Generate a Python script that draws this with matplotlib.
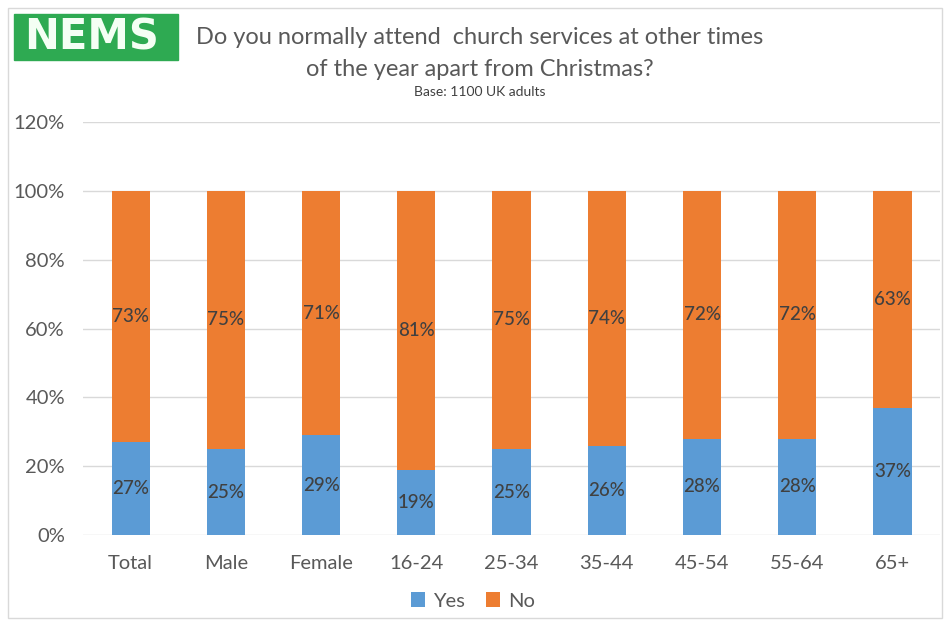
import matplotlib.pyplot as plt
import matplotlib.patches as patches
import numpy as np

plt.rcParams['font.family'] = ['Lato', 'DejaVu Sans']

grupos = ['Total', 'Male', 'Female', '16-24', '25-34', '35-44', '45-54', '55-64', '65+']
sim = [27, 25, 29, 19, 25, 26, 28, 28, 37]
nao = [73, 75, 71, 81, 75, 74, 72, 72, 63]

azul = '#5b9bd5'
laranja = '#ed7d31'
texto = '#404040'
eixo = '#595959'

fig = plt.figure(figsize=(9.45, 6.2), dpi=100)
ax = fig.add_axes([0.0878, 0.137, 0.907, 0.666])

x = np.arange(len(grupos))
b1 = ax.bar(x, sim, width=0.4, color=azul, label='Yes', zorder=3)
b2 = ax.bar(x, nao, width=0.4, bottom=sim, color=laranja, label='No', zorder=3)

# rótulos no meio de cada pedaço da barra
for i in range(len(grupos)):
    ax.text(x[i], sim[i] / 2, f'{sim[i]}%', ha='center', va='center',
            fontsize=13.5, color=texto, fontweight='medium', zorder=4)
    ax.text(x[i], sim[i] + nao[i] / 2, f'{nao[i]}%', ha='center', va='center',
            fontsize=13.5, color=texto, fontweight='medium', zorder=4)

ax.set_xlim(-0.5, len(grupos) - 0.5)
ax.set_ylim(0, 120)
ax.set_yticks(range(0, 121, 20))
ax.set_yticklabels([f'{v}%' for v in range(0, 121, 20)])
ax.set_xticks(x)
ax.set_xticklabels(grupos)
ax.tick_params(axis='both', length=0, labelsize=14.5, colors=eixo)
ax.tick_params(axis='y', pad=13)
ax.tick_params(axis='x', pad=14)
ax.grid(axis='y', color='#d9d9d9', linewidth=1, zorder=0)
for s in ax.spines.values():
    s.set_visible(False)

ax.legend(loc='upper center', bbox_to_anchor=(0.455, -0.095), ncol=2, frameon=False,
          fontsize=14.5, handlelength=0.7, handleheight=0.7, handletextpad=0.4,
          columnspacing=1.0, labelcolor=eixo)

# título
fig.text(0.508, 0.94, 'Do you normally attend  church services at other times',
         ha='center', va='center', fontsize=17, color=eixo)
fig.text(0.508, 0.888, 'of the year apart from Christmas?',
         ha='center', va='center', fontsize=17, color=eixo)
fig.text(0.508, 0.851, 'Base: 1100 UK adults', ha='center', va='center',
         fontsize=10, color=texto)

# logo
fig.patches.append(patches.Rectangle((14 / 945, 1 - 60 / 620), 164 / 945, 46 / 620,
                                     transform=fig.transFigure, color='#2eaa52'))
fig.text(92 / 945, 1 - 37 / 620, 'NEMS', ha='center', va='center', fontsize=30,
         fontweight='bold', color='#f4fff4', family='DejaVu Sans')

# moldura
fig.patches.append(patches.Rectangle((8 / 945, 2 / 620), 934 / 945, 610 / 620,
                                     transform=fig.transFigure, fill=False,
                                     edgecolor='#d9d9d9', linewidth=1))

plt.savefig('out.png', dpi=100)
